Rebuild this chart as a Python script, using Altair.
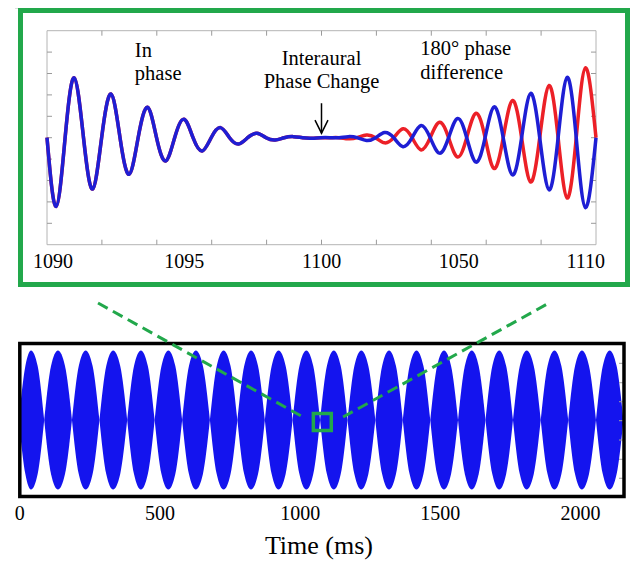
import altair as alt
import pandas as pd

# ---------------- values ----------------
# Upper panel: zoomed waveform around the interaural phase change (ms, amplitude)
wave_t = [1090.00, 1090.33, 1090.66, 1090.99, 1091.33, 1091.66, 1091.99, 1092.33, 1092.66, 1092.99,
          1093.32, 1093.66, 1093.99, 1094.32, 1094.65, 1094.99, 1095.32, 1095.65, 1095.98, 1096.32,
          1096.65, 1096.98, 1097.31, 1097.65, 1097.98, 1098.31, 1098.64, 1098.98, 1099.31, 1099.64,
          1099.97, 1100.31, 1100.64, 1100.97, 1101.30, 1101.64, 1101.97, 1102.30, 1102.63, 1102.97,
          1103.30, 1103.63, 1103.96, 1104.30, 1104.63, 1104.96, 1105.29, 1105.63, 1105.96, 1106.29,
          1106.62, 1106.96, 1107.29, 1107.62, 1107.95, 1108.29, 1108.62, 1108.95, 1109.28, 1109.62,
          1110.00]
blue_v = [0, -3.22, 0, 2.80, 0, -2.40, 0, 2.04, 0, -1.71,
          0, 1.42, 0, -1.09, 0, 0.86, 0, -0.62, 0, 0.47,
          0, -0.29, 0, 0.21, 0, -0.11, 0, 0.05, 0, -0.02,
          0, 0.00, 0, 0.05, 0, -0.13, 0, 0.24, 0, -0.42,
          0, 0.57, 0, -0.72, 0, 0.90, 0, -1.14, 0, 1.44,
          0, -1.74, 0, 2.07, 0, -2.44, 0, 2.82, 0, -3.27,
          0]
red_v = [0, -3.22, 0, 2.80, 0, -2.40, 0, 2.04, 0, -1.71,
         0, 1.42, 0, -1.09, 0, 0.86, 0, -0.62, 0, 0.47,
         0, -0.29, 0, 0.21, 0, -0.11, 0, 0.05, 0, -0.02,
         0, 0.00, 0, -0.05, 0, 0.13, 0, -0.24, 0, 0.42,
         0, -0.57, 0, 0.72, 0, -0.90, 0, 1.14, 0, -1.44,
         0, 1.74, 0, -2.07, 0, 2.44, 0, -2.82, 0, 3.27,
         0]
top_x_domain = [1090, 1110]
top_y_domain = [-5, 5]
top_label_values = [1090, 1095, 1100, 1105, 1110]
top_label_text = ["1090", "1095", "1100", "1050", "1110"]
top_tick_x = [1092, 1094, 1096, 1098, 1100, 1102, 1104, 1106, 1108]
top_tick_y = [-4, -3, -2, -1, 0, 1, 2, 3, 4]

ann_left_text = ["In\nphase", "180° phase\ndifference"]
ann_left_t = [1093.2, 1103.6]
ann_left_v = [3.79, 3.86]
ann_center_text = ["Interaural\nPhase Change"]
ann_center_t = [1100.0]
ann_center_v = [3.40]
arrow_t = [1100.0]
arrow_from_v = [1.61]
arrow_tip_v = [0.21]

# Lower panel: beating signal (filled envelope lobes), time in ms
neck_t = [0, 87, 186, 284, 383, 481, 579, 678, 776, 874, 973, 1071, 1169, 1268, 1366, 1464,
          1563, 1661, 1759, 1858, 1956, 2055, 2153]
neck_v = [0.15, 0, 0, 0, 0, 0, 0, 0, 0, 0, 0, 0, 0, 0, 0, 0, 0, 0, 0, 0, 0, 0, 0]
peak_t = [40, 136, 235, 333, 432, 530, 628, 727, 825, 923, 1022, 1120, 1218, 1317, 1415, 1513,
          1612, 1710, 1808, 1907, 2005, 2104]
peak_v = [1.0, 1.0, 1.0, 1.0, 1.0, 1.0, 1.0, 1.0, 1.0, 1.0, 1.0, 1.0, 1.0, 1.0, 1.0, 1.0,
          1.0, 1.0, 1.0, 1.0, 1.0, 1.0]
shoulder_v = 0.78   # envelope height a quarter lobe away from a zero
bottom_x_domain = [0, 2155]
bottom_y_domain = [-1.1, 1.1]
bottom_label_values = [0, 500, 1000, 1500, 2000]
bottom_label_text = ["0", "500", "1000", "1500", "2000"]
bottom_title = ["Time (ms)"]
bottom_title_t = [1067]
bottom_tick_y = [0.815, 0.536, 0.263, -0.01, -0.288, -0.565, -0.838]
zoom_box_t = [1047, 1111]
zoom_box_v = [-0.15, 0.094]
connector_side = ["left", "left", "right", "right"]
connector_t = [279, 1010, 1153, 1881]
connector_v = [1.682, 0.043, 0.043, 1.668]

# ---------------- layout / styles ----------------
W, H = 622, 553
SERIF = "Liberation Serif"
GREEN = "#22a84b"
BLUE_LINE = "#1e1ed4"
RED_LINE = "#ec2027"
BLUE_FILL = "#1414ee"
GRAY = "#b4b4b4"

top_xs = alt.Scale(domain=top_x_domain, range=[39, 588], nice=False, zero=False)
top_ys = alt.Scale(domain=top_y_domain, range=[236.7, 22.7], nice=False, zero=False)
bot_xs = alt.Scale(domain=bottom_x_domain, range=[11.8, 616], nice=False, zero=False)
bot_ys = alt.Scale(domain=bottom_y_domain, range=[488.5, 335.5], nice=False, zero=False)


def tx(field):
    return alt.X(field, type="quantitative", scale=top_xs, axis=None)


def ty(field):
    return alt.Y(field, type="quantitative", scale=top_ys, axis=None)


def bx(field):
    return alt.X(field, type="quantitative", scale=bot_xs, axis=None)


def by(field):
    return alt.Y(field, type="quantitative", scale=bot_ys, axis=None)


# ---------------- upper panel ----------------
frame_top_df = pd.DataFrame({"x1": [top_x_domain[0]], "x2": [top_x_domain[1]],
                             "y1": [top_y_domain[0]], "y2": [top_y_domain[1]]})
frame_top = alt.Chart(frame_top_df).mark_rect(fillOpacity=0, stroke=GRAY, strokeWidth=1).encode(
    x=tx("x1"), x2="x2", y=ty("y1"), y2="y2")

tl_y = 5 / 21.4   # 5 px in amplitude units
tl_x = 5 / 27.45  # 5 px in ms
rows = []
for v in top_tick_x:
    rows.append((v, v, top_y_domain[1], top_y_domain[1] - tl_y))
    rows.append((v, v, top_y_domain[0], top_y_domain[0] + tl_y))
for v in top_tick_y:
    rows.append((top_x_domain[0], top_x_domain[0] + tl_x, v, v))
    rows.append((top_x_domain[1], top_x_domain[1] - tl_x, v, v))
ticks_top_df = pd.DataFrame(rows, columns=["x1", "x2", "y1", "y2"])
ticks_top = alt.Chart(ticks_top_df).mark_rule(color="#9a9a9a", strokeWidth=1).encode(
    x=tx("x1"), x2="x2", y=ty("y1"), y2="y2")

red_df = pd.DataFrame({"t": wave_t, "v": red_v})
blue_df = pd.DataFrame({"t": wave_t, "v": blue_v})
red_line = alt.Chart(red_df).mark_line(color=RED_LINE, strokeWidth=3.5, interpolate="natural").encode(
    x=tx("t"), y=ty("v"))
blue_line = alt.Chart(blue_df).mark_line(color=BLUE_LINE, strokeWidth=3.5, interpolate="natural").encode(
    x=tx("t"), y=ty("v"))

lab_df = pd.DataFrame({"t": top_label_values, "s": top_label_text,
                       "v": [top_y_domain[0]] * len(top_label_values)})
lab_style = dict(baseline="alphabetic", font=SERIF, fontSize=20, color="black", dy=23.3)
top_lab_first = alt.Chart(lab_df.iloc[[0]]).mark_text(align="left", dx=-14, **lab_style).encode(
    x=tx("t"), y=ty("v"), text="s:N")
top_lab_mid = alt.Chart(lab_df.iloc[1:4]).mark_text(align="center", **lab_style).encode(
    x=tx("t"), y=ty("v"), text="s:N")
top_lab_last = alt.Chart(lab_df.iloc[[4]]).mark_text(align="right", dx=9, **lab_style).encode(
    x=tx("t"), y=ty("v"), text="s:N")

ann_style = dict(baseline="alphabetic", font=SERIF, fontSize=20.5, lineBreak="\n",
                 lineHeight=23.5, color="black")
ann_left = alt.Chart(pd.DataFrame({"t": ann_left_t, "v": ann_left_v, "s": ann_left_text})).mark_text(
    align="left", **ann_style).encode(x=tx("t"), y=ty("v"), text="s:N")
ann_center = alt.Chart(pd.DataFrame({"t": ann_center_t, "v": ann_center_v, "s": ann_center_text})).mark_text(
    align="center", **ann_style).encode(x=tx("t"), y=ty("v"), text="s:N")

arrow_df = pd.DataFrame({"t": arrow_t, "v1": arrow_from_v, "v2": arrow_tip_v})
arrow_shaft = alt.Chart(arrow_df).mark_rule(color="black", strokeWidth=1.5).encode(
    x=tx("t"), y=ty("v1"), y2="v2")
arrow_head = alt.Chart(arrow_df).mark_point(
    shape="M-1,-2L0,0L1,-2", size=169, filled=False, stroke="black", strokeWidth=1.5, opacity=1).encode(
    x=tx("t"), y=ty("v2"))

top = alt.layer(frame_top, ticks_top, red_line, blue_line, top_lab_first, top_lab_mid, top_lab_last,
                ann_left, ann_center, arrow_shaft, arrow_head)

# ---------------- lower panel ----------------
lrows = []
for j in range(len(peak_t)):
    a, p, b = neck_t[j], peak_t[j], neck_t[j + 1]
    lrows.append((j, a, neck_v[j]))
    lrows.append((j, (a + p) / 2, max(shoulder_v * peak_v[j], neck_v[j])))
    lrows.append((j, p, peak_v[j]))
    lrows.append((j, (p + b) / 2, shoulder_v * peak_v[j]))
    lrows.append((j, b, neck_v[j + 1]))
lobe_df = pd.DataFrame(lrows, columns=["lobe", "t", "e"])
lobe_df["lo"] = -lobe_df["e"]
lobes = alt.Chart(lobe_df).mark_area(color=BLUE_FILL, interpolate="monotone", opacity=1).encode(
    x=bx("t"), y=by("e"), y2="lo", detail="lobe:N")

bl = 5 / 0.2804
rt_df = pd.DataFrame({"x1": [bottom_x_domain[1]] * len(bottom_tick_y),
                      "x2": [bottom_x_domain[1] - bl] * len(bottom_tick_y),
                      "y1": bottom_tick_y})
ticks_bot = alt.Chart(rt_df).mark_rule(color="#a0a0a0", strokeWidth=1).encode(
    x=bx("x1"), x2="x2", y=by("y1"))

frame_bot_df = pd.DataFrame({"x1": [bottom_x_domain[0]], "x2": [bottom_x_domain[1]],
                             "y1": [bottom_y_domain[0]], "y2": [bottom_y_domain[1]]})
frame_bot = alt.Chart(frame_bot_df).mark_rect(fillOpacity=0, stroke="black", strokeWidth=3.5).encode(
    x=bx("x1"), x2="x2", y=by("y1"), y2="y2")

blab_df = pd.DataFrame({"t": bottom_label_values, "s": bottom_label_text,
                        "v": [bottom_y_domain[0]] * len(bottom_label_values)})
bot_labels = alt.Chart(blab_df).mark_text(
    align="center", baseline="alphabetic", font=SERIF, fontSize=20, color="black", dy=23.5).encode(
    x=bx("t"), y=by("v"), text="s:N")
btitle_df = pd.DataFrame({"t": bottom_title_t, "s": bottom_title, "v": [bottom_y_domain[0]]})
bot_title = alt.Chart(btitle_df).mark_text(
    align="center", baseline="alphabetic", font=SERIF, fontSize=26, color="black", dy=57.5).encode(
    x=bx("t"), y=by("v"), text="s:N")

zb_df = pd.DataFrame({"x1": [zoom_box_t[0]], "x2": [zoom_box_t[1]],
                      "y1": [zoom_box_v[0]], "y2": [zoom_box_v[1]]})
zoom_box = alt.Chart(zb_df).mark_rect(fillOpacity=0, stroke=GREEN, strokeWidth=3.5).encode(
    x=bx("x1"), x2="x2", y=by("y1"), y2="y2")

conn_df = pd.DataFrame({"side": connector_side, "t": connector_t, "v": connector_v})
connectors = alt.Chart(conn_df).mark_line(color=GREEN, strokeWidth=3, strokeDash=[11, 6]).encode(
    x=bx("t"), y=by("v"), detail="side:N")

bottom = alt.layer(lobes, ticks_bot, frame_bot, bot_labels, bot_title, zoom_box, connectors)

# ---------------- green box around the zoomed panel ----------------
green_box = alt.Chart(pd.DataFrame({"k": [0]})).mark_rect(
    fillOpacity=0, stroke=GREEN, strokeWidth=5).encode(
    x=alt.value(12.5), x2=alt.value(619.5), y=alt.value(2.5), y2=alt.value(276.5))

# plain white margin strip on the far left of the canvas
margin_strip = alt.Chart(pd.DataFrame({"k": [0]})).mark_rect(
    fill="white", strokeWidth=0).encode(
    x=alt.value(0), x2=alt.value(7), y=alt.value(0), y2=alt.value(H))

chart = alt.layer(green_box, top, bottom, margin_strip).resolve_scale(
    x="independent", y="independent"
).properties(
    width=W, height=H, padding=0, autosize=alt.AutoSizeParams(type="none")
).configure_view(strokeWidth=0).configure(background="white")

chart.save("out.html", embed_options={"renderer": "svg", "actions": False})
